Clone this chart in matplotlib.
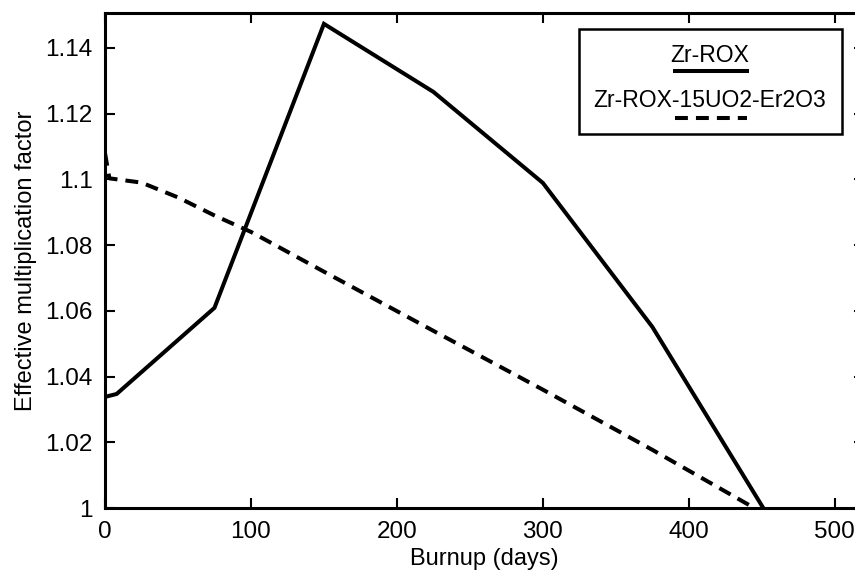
import matplotlib
matplotlib.use("Agg")
import matplotlib.pyplot as plt
from matplotlib.patches import Rectangle
from matplotlib.lines import Line2D

# burnup (days) and k-eff for the two fuel designs
zr_rox_days = [0, 8, 75, 150, 225, 300, 375, 451]
zr_rox_keff = [1.0338, 1.0347, 1.0609, 1.1473, 1.1266, 1.0989, 1.0551, 1.0]

er_days = [0, 3, 25, 50, 75, 100, 150, 225, 300, 375, 450]
er_keff = [1.108, 1.1003, 1.0990, 1.0945, 1.0890, 1.0840, 1.0719, 1.0539,
           1.0360, 1.0177, 0.9987]

x_ticks = [0, 100, 200, 300, 400, 500]
y_ticks = [1.0, 1.02, 1.04, 1.06, 1.08, 1.1, 1.12, 1.14]
y_tick_labels = ["1", "1.02", "1.04", "1.06", "1.08", "1.1", "1.12", "1.14"]

plt.rcParams["font.family"] = ["Liberation Sans", "DejaVu Sans"]
FS = 17
TICK_FS = 17.5

fig = plt.figure(figsize=(8.55, 5.75), dpi=100)
ax = fig.add_axes([0.1228, 0.1165, 0.8877, 0.8609])

ax.plot(zr_rox_days, zr_rox_keff, color="black", lw=2.9,
        solid_joinstyle="miter")
ax.plot(er_days, er_keff, color="black", lw=2.9, dashes=(3.2, 2.0),
        dash_capstyle="butt")

ax.set_xlim(0, 520)
ax.set_ylim(1.0, 1.1506)
ax.set_xticks(x_ticks)
ax.set_yticks(y_ticks)
ax.set_yticklabels(y_tick_labels)

ax.tick_params(direction="in", length=7, width=1.5, top=True, right=True,
               labelsize=TICK_FS)
ax.tick_params(axis="x", pad=9)
ax.tick_params(axis="y", pad=9)
for sp in ax.spines.values():
    sp.set_linewidth(2.2)

ax.set_xlabel("Burnup (days)", fontsize=FS, labelpad=4)
ax.set_ylabel("Effective multiplication factor", fontsize=FS, labelpad=6)

# legend box: label above its line sample
ax.add_patch(Rectangle((0.6245, 0.7556), 0.3465, 0.2121, transform=ax.transAxes,
                       fill=False, lw=1.8, ec="black", zorder=5))
ax.text(0.797, 0.915, "Zr-ROX", transform=ax.transAxes, fontsize=16.5,
        ha="center", va="center")
ax.add_line(Line2D([0.751, 0.846], [0.883, 0.883], transform=ax.transAxes,
                   color="black", lw=2.9))
ax.text(0.797, 0.824, "Zr-ROX-15UO2-Er2O3", transform=ax.transAxes,
        fontsize=16.5, ha="center", va="center")
ax.add_line(Line2D([0.751, 0.846], [0.788, 0.788], transform=ax.transAxes,
                   color="black", lw=2.9, dashes=(3.2, 2.0)))

fig.savefig("out.png", dpi=100)
